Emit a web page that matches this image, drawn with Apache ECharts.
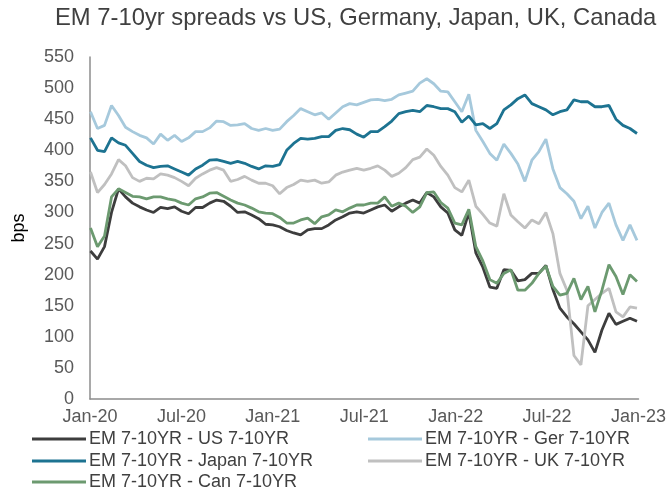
<!DOCTYPE html>
<html>
<head>
<meta charset="utf-8">
<title>EM 7-10yr spreads</title>
<script src="https://cdn.jsdelivr.net/npm/echarts@6/dist/echarts.min.js"></script>
<style>
    body { margin: 0; background: #ffffff; }
    #chart { width: 669px; height: 493px; }
</style>
</head>
<body>
<div id="chart"></div>
<script>
// 数据：每两周一个点，x 为距 2020-01-01 的天数（第一个点是 2020-01-02）
var startDay = 1;
var stepDays = 14;
var totalDays = 1096; // 2020-01-01 到 2023-01-01

var seriesNames = [
    'EM 7-10YR - US 7-10YR',
    'EM 7-10YR - Ger 7-10YR',
    'EM 7-10YR - Japan 7-10YR',
    'EM 7-10YR - UK 7-10YR',
    'EM 7-10YR - Can 7-10YR'
];

var usSpread = [
    238, 225, 245, 300, 338, 325, 315, 309, 304, 300, 308, 306, 309, 302, 298, 308,
    308, 315, 320, 318, 310, 300, 301, 296, 290, 281, 280, 277, 271, 267, 264, 272,
    274, 274, 280, 288, 293, 299, 301, 299, 304, 309, 312, 302, 309, 315, 320,
    315, 332, 325, 309, 299, 272, 263, 300, 235, 212, 180, 178, 208, 207, 190, 192,
    202, 202, 215, 176, 146, 132, 121, 108, 95, 75, 111, 138, 120, 125, 130, 125
];
var gerSpread = [
    462, 435, 440, 472, 456, 437, 430, 424, 420, 410, 426, 416, 424, 414, 420, 430,
    430, 436, 447, 446, 440, 441, 443, 435, 432, 435, 432, 434, 446, 456, 467, 462,
    457, 460, 450, 460, 470, 475, 473, 477, 481, 482, 480, 482, 489, 492, 495,
    508, 515, 507, 495, 494, 478, 462, 490, 432, 414, 395, 384, 410, 395, 378, 350,
    384, 398, 418, 370, 340, 330, 318, 290, 310, 275, 300, 315, 280, 255, 280, 255
];
var japanSpread = [
    420, 400, 398, 420, 412, 408, 395, 382, 376, 372, 374, 375, 370, 365, 360, 370,
    376, 384, 385, 382, 379, 382, 379, 374, 370, 375, 374, 377, 400, 411, 419, 418,
    419, 422, 422, 432, 435, 433, 426, 421, 430, 430, 438, 447, 459, 462, 464,
    462, 472, 470, 467, 467, 462, 445, 455, 441, 443, 435, 443, 465, 473, 483, 489,
    475, 470, 465, 457, 462, 465, 481, 478, 478, 470, 470, 472, 450, 440, 435, 427
];
var ukSpread = [
    365, 332, 345, 362, 385, 375, 356, 350, 355, 354, 362, 360, 356, 350, 343, 355,
    362, 368, 372, 368, 350, 353, 358, 352, 347, 347, 343, 330, 340, 345, 352, 350,
    352, 347, 349, 360, 365, 368, 371, 368, 371, 375, 368, 358, 363, 372, 385,
    389, 402, 392, 374, 360, 340, 333, 352, 310, 297, 283, 278, 330, 296, 285, 275,
    288, 282, 300, 266, 202, 175, 70, 55, 150, 160, 170, 178, 140, 132, 148, 146
];
var canSpread = [
    275, 245, 262, 325, 338, 332, 326, 325, 322, 325, 325, 322, 320, 315, 312, 322,
    325, 331, 332, 326, 320, 315, 312, 307, 301, 299, 298, 292, 283, 283, 288, 291,
    282, 293, 296, 304, 301, 307, 312, 312, 315, 315, 325, 310, 315, 310, 300,
    309, 332, 333, 316, 307, 283, 280, 305, 245, 222, 192, 186, 202, 208, 175, 175,
    186, 202, 214, 181, 167, 170, 194, 160, 181, 140, 175, 216, 197, 168, 200, 189
];

var seriesColors = ['#3d3d3d', '#a6c9dc', '#1d7391', '#c0c0c0', '#6c9a70'];

// x 轴刻度：半年一个
var tickLabels = ['Jan-20', 'Jul-20', 'Jan-21', 'Jul-21', 'Jan-22', 'Jul-22', 'Jan-23'];
var tickInterval = totalDays / (tickLabels.length - 1);

var fontFamily = "'Liberation Sans', Arial, sans-serif";

function buildSeriesData(values) {
    var out = [];
    for (var i = 0; i < values.length; i++) {
        out.push([startDay + i * stepDays, values[i]]);
    }
    return out;
}

var allValues = [usSpread, gerSpread, japanSpread, ukSpread, canSpread];
var series = [];
for (var s = 0; s < allValues.length; s++) {
    series.push({
        name: seriesNames[s],
        type: 'line',
        symbol: 'none',
        data: buildSeriesData(allValues[s]),
        lineStyle: { width: 2.8, color: seriesColors[s] },
        itemStyle: { color: seriesColors[s] },
        emphasis: { disabled: true }
    });
}

// 图例：两列三行，每个图例单独定位，图标用细长矩形模拟线段
var legendPos = [
    { left: 32, top: 430 },
    { left: 368, top: 430 },
    { left: 32, top: 452 },
    { left: 368, top: 452 },
    { left: 32, top: 473 }
];
var legends = [];
for (var k = 0; k < seriesNames.length; k++) {
    legends.push({
        data: [{ name: seriesNames[k], icon: 'rect' }],
        left: legendPos[k].left,
        top: legendPos[k].top,
        padding: 0,
        itemWidth: 54,
        itemHeight: 3,
        itemGap: 0,
        selectedMode: false,
        textStyle: { fontSize: 18, color: '#404040', fontFamily: fontFamily, padding: [0, 0, 0, -2] }
    });
}

var chart = echarts.init(document.getElementById('chart'));
chart.setOption({
    animation: false,
    backgroundColor: '#ffffff',
    title: {
        text: 'EM 7-10yr spreads vs US, Germany, Japan, UK, Canada',
        left: 55,
        top: 6,
        padding: 0,
        textStyle: { fontSize: 23.8, fontWeight: 'normal', color: '#404040', fontFamily: fontFamily }
    },
    legend: legends,
    grid: { left: 90, right: 29, top: 57, bottom: 94 },
    xAxis: {
        type: 'value',
        min: 0,
        max: totalDays,
        interval: tickInterval,
        axisLine: { lineStyle: { color: '#8c8c8c', width: 1.5 } },
        axisTick: { show: false },
        splitLine: { show: false },
        axisLabel: {
            fontSize: 18,
            color: '#595959',
            fontFamily: fontFamily,
            margin: 9,
            showMaxLabel: true,
            formatter: function (v) {
                var idx = Math.round(v / tickInterval);
                return tickLabels[idx] || '';
            }
        }
    },
    yAxis: {
        type: 'value',
        min: 0,
        max: 550,
        interval: 50,
        name: 'bps',
        nameLocation: 'middle',
        nameRotate: 90,
        nameGap: 62,
        nameTextStyle: { fontSize: 18, color: '#000000', fontFamily: fontFamily },
        axisLine: { show: true, lineStyle: { color: '#8c8c8c', width: 1.5 } },
        axisTick: { show: false },
        splitLine: { show: false },
        axisLabel: { fontSize: 18, color: '#595959', fontFamily: fontFamily, margin: 16 }
    },
    series: series
});
</script>
</body>
</html>
